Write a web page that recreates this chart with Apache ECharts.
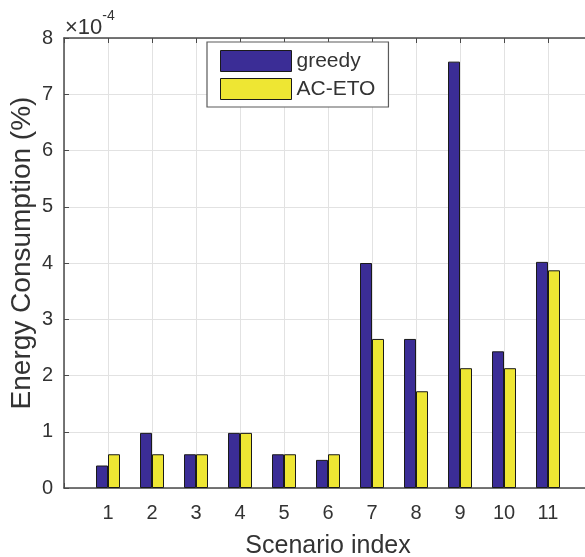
<!DOCTYPE html>
<html>
<head>
<meta charset="utf-8">
<script src="https://cdn.jsdelivr.net/npm/echarts@6/dist/echarts.min.js"></script>
<style>
  html, body { margin: 0; padding: 0; background: #fff; }
  #chart { width: 585px; height: 557px; }
</style>
</head>
<body>
<div id="chart"></div>
<script>
// Scenario indices on the x axis
const scenarios = [1, 2, 3, 4, 5, 6, 7, 8, 9, 10, 11];
// Energy consumption, in units of 1e-4 %
const greedy = [0.4, 0.98, 0.6, 0.98, 0.6, 0.5, 4.0, 2.65, 7.58, 2.43, 4.02];
const acEto  = [0.6, 0.6, 0.6, 0.98, 0.6, 0.6, 2.65, 1.72, 2.13, 2.13, 3.87];
const seriesNames = ['greedy', 'AC-ETO'];
const yTicks = [0, 1, 2, 3, 4, 5, 6, 7, 8];

const FONT = '"Liberation Sans", Arial, Helvetica, sans-serif';
const AXIS_COLOR = '#4a4a4a';
const GRID_COLOR = '#e2e2e2';
const TEXT_COLOR = '#333';

const chart = echarts.init(document.getElementById('chart'));

const xBase = {
  type: 'value',
  min: 0,
  max: scenarios.length + 1,
  interval: 1,
  axisLine: { show: true, lineStyle: { color: AXIS_COLOR, width: 1.5 } },
  axisTick: { show: true, inside: true, length: 5, lineStyle: { color: AXIS_COLOR } }
};

chart.setOption({
  animation: false,
  textStyle: { fontFamily: FONT },
  // the axes box runs a little past the right edge of the canvas
  grid: { left: 64, top: 38, width: 528, height: 450, outerBoundsMode: 'none', containLabel: false },
  legend: {
    data: seriesNames,
    orient: 'vertical',
    left: 207,
    top: 42,
    padding: [8, 13, 7, 13],
    itemWidth: 71,
    itemHeight: 21,
    itemGap: 6,
    icon: 'rect',
    backgroundColor: '#fff',
    borderColor: '#5a5a5a',
    borderWidth: 1.2,
    itemStyle: { borderColor: '#1a1a1a', borderWidth: 1 },
    textStyle: { fontFamily: FONT, fontSize: 21, color: TEXT_COLOR }
  },
  xAxis: [
    Object.assign({}, xBase, {
      position: 'bottom',
      axisLabel: {
        fontFamily: FONT, fontSize: 20, color: TEXT_COLOR, margin: 15,
        formatter: v => (scenarios.indexOf(v) >= 0 ? String(v) : '')
      },
      splitLine: { show: true, lineStyle: { color: GRID_COLOR, width: 1 } },
      name: 'Scenario index',
      nameLocation: 'middle',
      nameGap: 46,
      nameTextStyle: { fontFamily: FONT, fontSize: 25, color: TEXT_COLOR }
    }),
    Object.assign({}, xBase, {
      position: 'top',
      axisLabel: { show: false },
      splitLine: { show: false }
    })
  ],
  yAxis: {
    type: 'value',
    min: yTicks[0],
    max: yTicks[yTicks.length - 1],
    interval: 1,
    axisLine: { show: true, lineStyle: { color: AXIS_COLOR, width: 1.5 } },
    axisTick: { show: true, inside: true, length: 5, lineStyle: { color: AXIS_COLOR } },
    axisLabel: { fontFamily: FONT, fontSize: 20, color: TEXT_COLOR, margin: 11 },
    splitLine: { show: true, lineStyle: { color: GRID_COLOR, width: 1 } }
  },
  graphic: [
    {
      type: 'text',
      x: 22, y: 253,
      rotation: Math.PI / 2,
      style: {
        text: 'Energy Consumption (%)',
        font: '28px ' + FONT,
        fill: TEXT_COLOR,
        align: 'center',
        verticalAlign: 'middle'
      }
    },
    {
      type: 'text',
      x: 65, y: 9,
      style: {
        text: '{m|×10}{s|-4}',
        rich: {
          m: { font: '22px ' + FONT, fill: TEXT_COLOR, padding: [8, 0, 0, 0] },
          s: { font: '14px ' + FONT, fill: TEXT_COLOR, verticalAlign: 'top', padding: [0, 0, 8, 0] }
        }
      }
    }
  ],
  series: [
    {
      name: seriesNames[0],
      type: 'bar',
      barWidth: 12,
      barGap: '0%',
      itemStyle: { color: '#3b2d96', borderColor: '#1a1a1a', borderWidth: 1 },
      data: scenarios.map((s, i) => [s, greedy[i]])
    },
    {
      name: seriesNames[1],
      type: 'bar',
      barWidth: 12,
      barGap: '0%',
      itemStyle: { color: '#eee633', borderColor: '#1a1a1a', borderWidth: 1 },
      data: scenarios.map((s, i) => [s, acEto[i]])
    }
  ]
});
</script>
</body>
</html>
